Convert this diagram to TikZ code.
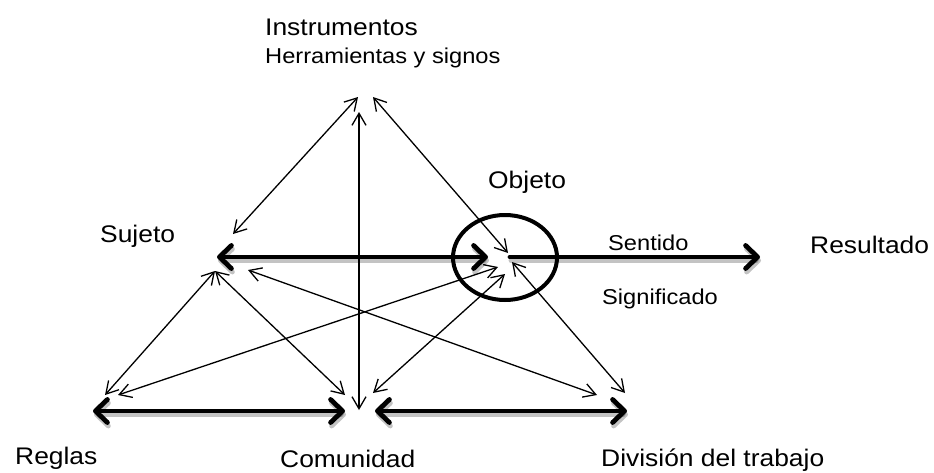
\documentclass[tikz,border=0pt]{standalone}
\usepackage{fontspec}
\setmainfont[FakeStretch=1.1]{Liberation Sans}
\usetikzlibrary{arrows.meta,shapes.geometric}
\begin{document}
\begin{tikzpicture}[x=1pt,y=-1pt,
  lbl/.style={anchor=base west, inner sep=0pt, font=\fontsize{24}{28}\selectfont},
  sml/.style={anchor=base west, inner sep=0pt, font=\fontsize{21.5}{25}\selectfont},
  tiphead/.tip={Straight Barb[length=12pt,width=14pt]},
  bighead/.tip={Straight Barb[length=12pt,width=23pt,round]},
  conn/.style={line width=1.3pt, tiphead-tiphead},
  bigarrow/.style={line width=4.8pt, line cap=round},
  bigboth/.style={bigarrow, bighead-bighead},
  bigone/.style={bigarrow, -bighead},
  shadowA/.style={draw=black, opacity=0.09, line width=10pt},
  shadowB/.style={draw=black, opacity=0.16, line width=6.5pt},
]
\useasboundingbox (0,0) rectangle (934,472);

% endpoints
\coordinate (i1) at (358,97);
\coordinate (i2) at (359,112);
\coordinate (i3) at (373,97);
\coordinate (s1) at (233,234);
\coordinate (s2) at (215,271);
\coordinate (s3) at (248,270);
\coordinate (sT) at (217,257);
\coordinate (oL) at (488,257);
\coordinate (oR) at (510,257);
\coordinate (o1) at (508,253);
\coordinate (o2) at (512,262);
\coordinate (o3) at (498,267);
\coordinate (o4) at (505,274);
\coordinate (res) at (760,257);
\coordinate (r1) at (105,395);
\coordinate (r2) at (118,395);
\coordinate (rT) at (93,411);
\coordinate (c1) at (345,395);
\coordinate (c2) at (359,410);
\coordinate (c3) at (373,393);
\coordinate (cL) at (345,411);
\coordinate (cR) at (375,411);
\coordinate (d1) at (597,395);
\coordinate (d2) at (625,393);
\coordinate (dT) at (627,411);

% shadows of thick arrows
\begin{scope}[transform canvas={xshift=1pt,yshift=-3.5pt}]
  \foreach \st in {shadowA,shadowB}{
    \draw[\st, bigboth] (sT) -- (oL);
    \draw[\st, bigone] (oR) -- (res);
    \draw[\st, bigboth] (rT) -- (cL);
    \draw[\st, bigboth] (cR) -- (dT);
  }
\end{scope}

% object circle
\node[ellipse, draw, line width=4pt, minimum width=104pt, minimum height=85pt, inner sep=0pt] (circ) at (505,257.5) {};

% thin connectors
\draw[conn] (i1) -- (s1);
\draw[conn] (i2) -- (c2);
\draw[conn] (i3) -- (o1);
\draw[conn] (o2) -- (d2);
\draw[conn] (s2) -- (r1);
\draw[conn] (s2) -- (c1);
\draw[conn] (r2) -- (o3);
\draw[conn] (s3) -- (d1);
\draw[conn] (c3) -- (o4);

% thick arrows
\draw[bigboth] (sT) -- (oL);
\draw[bigone] (oR) -- (res);
\draw[bigboth] (rT) -- (cL);
\draw[bigboth] (cR) -- (dT);

% labels
\node[lbl] (instr) at (265,35) {Instrumentos};
\node[sml] (herr) at (265,63) {Herramientas y signos};
\node[lbl] (objeto) at (488,188) {Objeto};
\node[lbl] (sujeto) at (100,242) {Sujeto};
\node[sml] (sent) at (608,250) {Sentido};
\node[sml] (sig) at (602,304) {Significado};
\node[lbl] (resul) at (810,253) {Resultado};
\node[lbl] (reglas) at (15,464) {Reglas};
\node[lbl] (comun) at (280,467) {Comunidad};
\node[lbl] (divis) at (601,466) {División del trabajo};
\end{tikzpicture}
\end{document}
